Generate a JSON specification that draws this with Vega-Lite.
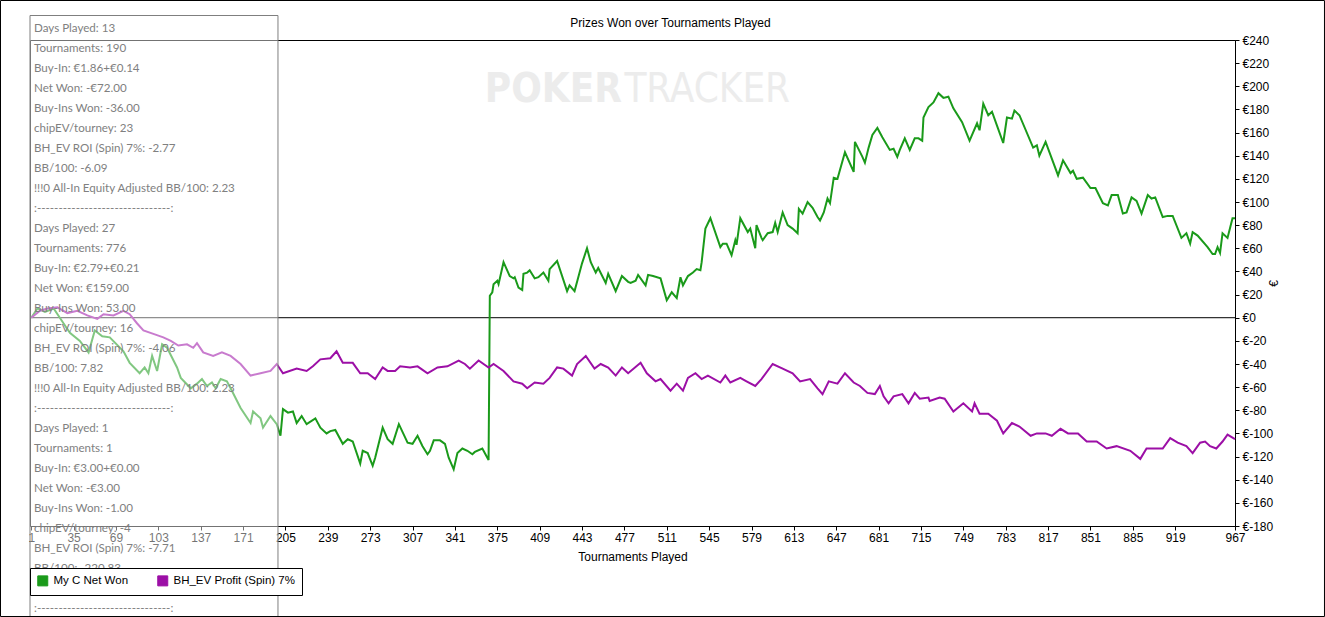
{
  "$schema": "https://vega.github.io/schema/vega-lite/v6.json",
  "width": 1205,
  "height": 486,
  "autosize": {"type": "none"},
  "padding": {"left": 30, "top": 40, "right": 90, "bottom": 91},
  "background": "white",
  "title": {"text": "Prizes Won over Tournaments Played", "anchor": "middle", "frame": "group", "dx": 38, "offset": -30, "fontSize": 12, "fontWeight": "normal", "font": "Liberation Sans", "color": "black"},
  "datasets": {
    "green": [[1,0],[6,8],[12,5],[19,8],[27,-5],[32,-13],[40,-20],[47,-30],[52,-11],[58,-16],[64,-17],[75,-29],[80,-39],[88,-48],[92,-43],[95,-48],[98,-33],[102,-46],[106,-23],[110,-26],[118,-43],[121,-52],[129,-61],[134,-57],[138,-53],[142,-59],[146,-56],[149,-61],[153,-53],[158,-55],[161,-61],[169,-78],[177,-91],[179,-81],[185,-87],[187,-95],[193,-85],[198,-92],[201,-102],[203,-79],[207,-82],[211,-81],[214,-91],[218,-85],[222,-92],[229,-87],[233,-95],[238,-100],[241,-98],[245,-97],[251,-109],[255,-105],[259,-107],[265,-126],[267,-115],[271,-117],[275,-128],[277,-121],[283,-95],[287,-105],[291,-109],[296,-92],[303,-108],[307,-109],[311,-102],[315,-111],[319,-118],[321,-115],[324,-106],[329,-106],[333,-109],[336,-121],[340,-131],[343,-117],[347,-113],[351,-115],[355,-118],[357,-116],[363,-113],[368,-123],[369,19],[371,22],[372,29],[375,32],[376,29],[380,48],[385,36],[388,34],[389,35],[392,26],[395,24],[396,38],[399,39],[401,41],[405,34],[408,35],[412,39],[416,32],[417,42],[423,49],[431,23],[433,28],[437,23],[440,35],[443,47],[447,60],[450,48],[454,39],[456,43],[462,30],[464,38],[470,23],[475,36],[480,31],[482,30],[486,32],[488,37],[494,28],[496,37],[500,36],[506,34],[511,15],[515,22],[519,17],[522,35],[524,28],[528,36],[532,39],[535,42],[538,41],[539,48],[542,77],[546,86],[554,61],[556,64],[559,64],[563,54],[566,67],[567,63],[570,86],[576,74],[578,77],[582,60],[583,80],[587,69],[588,67],[592,73],[596,74],[598,82],[600,74],[604,91],[608,80],[612,77],[616,73],[617,94],[620,90],[624,100],[628,95],[632,87],[634,84],[637,91],[640,103],[642,99],[645,121],[648,120],[654,143],[661,126],[662,152],[668,139],[670,134],[673,147],[676,158],[680,164],[684,156],[690,145],[693,146],[696,139],[698,145],[702,155],[706,145],[710,155],[713,155],[716,153],[717,173],[721,182],[725,186],[729,194],[733,190],[737,191],[741,181],[748,169],[754,153],[760,168],[762,162],[765,185],[769,175],[772,178],[776,166],[781,151],[784,173],[788,172],[790,179],[794,175],[805,147],[808,149],[810,140],[815,152],[825,123],[829,136],[835,125],[837,127],[840,120],[845,121],[851,112],[855,112],[861,99],[865,97],[868,106],[873,106],[877,90],[880,91],[884,104],[888,101],[892,90],[897,106],[900,103],[903,104],[909,87],[913,88],[917,88],[924,69],[928,73],[931,64],[933,74],[937,71],[945,61],[949,55],[951,55],[953,61],[955,56],[957,73],[961,69],[965,86],[967,86]],
    "purple": [[1,0],[8,6],[14,8],[22,9],[30,4],[38,6],[46,2],[54,-1],[59,3],[67,2],[75,6],[80,3],[86,-5],[91,-11],[99,-14],[107,-17],[113,-20],[119,-24],[126,-23],[131,-26],[134,-22],[139,-30],[147,-33],[154,-30],[161,-33],[169,-40],[177,-50],[185,-48],[193,-46],[198,-40],[203,-48],[214,-44],[222,-46],[227,-42],[233,-36],[241,-35],[246,-29],[251,-39],[259,-39],[265,-48],[271,-48],[277,-53],[283,-43],[287,-46],[293,-46],[297,-42],[305,-43],[311,-42],[319,-48],[327,-43],[335,-42],[344,-37],[349,-40],[353,-44],[360,-37],[368,-43],[372,-40],[380,-46],[388,-55],[395,-57],[399,-61],[405,-56],[412,-57],[417,-52],[423,-43],[428,-44],[435,-50],[439,-40],[446,-33],[453,-44],[458,-40],[464,-43],[470,-50],[475,-43],[480,-48],[490,-39],[495,-48],[502,-55],[506,-53],[514,-63],[519,-57],[524,-63],[528,-52],[534,-48],[539,-53],[544,-50],[554,-56],[558,-50],[562,-56],[570,-52],[575,-55],[582,-59],[587,-53],[596,-40],[604,-44],[612,-48],[618,-55],[626,-53],[632,-61],[636,-66],[641,-55],[648,-57],[654,-48],[661,-56],[666,-59],[672,-65],[678,-66],[682,-59],[685,-68],[689,-74],[693,-68],[700,-66],[705,-74],[710,-65],[714,-70],[721,-69],[722,-72],[730,-69],[734,-70],[741,-81],[749,-74],[756,-81],[758,-74],[762,-83],[769,-83],[776,-89],[781,-100],[788,-91],[794,-94],[803,-102],[808,-100],[815,-100],[820,-102],[827,-96],[833,-100],[841,-100],[848,-107],[856,-107],[864,-113],[872,-111],[883,-115],[891,-122],[896,-113],[905,-113],[909,-113],[915,-104],[921,-108],[928,-111],[933,-117],[939,-108],[943,-107],[947,-111],[952,-113],[957,-107],[961,-101],[967,-105]],
    "notes": [
      {"row": 0, "text": "Days Played: 13"},
      {"row": 1, "text": "Tournaments: 190"},
      {"row": 2, "text": "Buy-In: €1.86+€0.14"},
      {"row": 3, "text": "Net Won: -€72.00"},
      {"row": 4, "text": "Buy-Ins Won: -36.00"},
      {"row": 5, "text": "chipEV/tourney: 23"},
      {"row": 6, "text": "BH_EV ROI (Spin) 7%: -2.77"},
      {"row": 7, "text": "BB/100: -6.09"},
      {"row": 8, "text": "!!!0 All-In Equity Adjusted BB/100: 2.23"},
      {"row": 9, "text": ":-------------------------------:"},
      {"row": 10, "text": "Days Played: 27"},
      {"row": 11, "text": "Tournaments: 776"},
      {"row": 12, "text": "Buy-In: €2.79+€0.21"},
      {"row": 13, "text": "Net Won: €159.00"},
      {"row": 14, "text": "Buy-Ins Won: 53.00"},
      {"row": 15, "text": "chipEV/tourney: 16"},
      {"row": 16, "text": "BH_EV ROI (Spin) 7%: -4.06"},
      {"row": 17, "text": "BB/100: 7.82"},
      {"row": 18, "text": "!!!0 All-In Equity Adjusted BB/100: 2.23"},
      {"row": 19, "text": ":-------------------------------:"},
      {"row": 20, "text": "Days Played: 1"},
      {"row": 21, "text": "Tournaments: 1"},
      {"row": 22, "text": "Buy-In: €3.00+€0.00"},
      {"row": 23, "text": "Net Won: -€3.00"},
      {"row": 24, "text": "Buy-Ins Won: -1.00"},
      {"row": 25, "text": "chipEV/tourney: -4"},
      {"row": 26, "text": "BH_EV ROI (Spin) 7%: -7.71"},
      {"row": 27, "text": "BB/100: -220.83"},
      {"row": 28, "text": "!!!0 All-In Equity Adjusted BB/100: -14.10"},
      {"row": 29, "text": ":-------------------------------:"}
    ]
  },
  "layer": [
    {
      "layer": [
        {
          "data": {"values": [{}]},
          "mark": {"type": "text", "font": "DejaVu Sans Condensed, Roboto", "fontSize": 40, "fontWeight": "bold", "color": "#ececec", "align": "left", "baseline": "middle"},
          "encoding": {
            "x": {"datum": 365, "type": "quantitative"},
            "y": {"datum": 197, "type": "quantitative"},
            "text": {"value": "POKER"}
          }
        },
        {
          "data": {"values": [{}]},
          "mark": {"type": "text", "font": "DejaVu Sans Condensed, Roboto", "fontSize": 40, "color": "#ececec", "align": "left", "baseline": "middle"},
          "encoding": {
            "x": {"datum": 477, "type": "quantitative"},
            "y": {"datum": 197, "type": "quantitative"},
            "text": {"value": "TRACKER"}
          }
        },
        {
          "data": {"values": [{}]},
          "mark": {"type": "rule", "color": "black", "strokeWidth": 1},
          "encoding": {"y": {"datum": 0, "type": "quantitative"}}
        },
        {
          "data": {"name": "green"},
          "transform": [
            {"calculate": "datum[0]", "as": "t"},
            {"calculate": "datum[1]", "as": "v"},
            {"calculate": "'My C Net Won'", "as": "series"}
          ],
          "mark": {"type": "line", "strokeWidth": 2},
          "encoding": {
            "x": {"field": "t", "type": "quantitative", "title": "Tournaments Played",
              "scale": {"domain": [0, 967], "nice": false, "zero": false},
              "axis": {"values": [1,35,69,103,137,171,205,239,273,307,341,375,409,443,477,511,545,579,613,647,681,715,749,783,817,851,885,919,967], "tickCount": 40, "labelPadding": 2, "titlePadding": 8, "labelOverlap": false, "labelFlush": false}},
            "y": {"field": "v", "type": "quantitative", "title": "€",
              "scale": {"domain": [-180, 240], "nice": false, "zero": false},
              "axis": {"orient": "right", "values": [-180,-160,-140,-120,-100,-80,-60,-40,-20,0,20,40,60,80,100,120,140,160,180,200,220,240], "tickCount": 30, "labelExpr": "'€' + datum.value", "labelPadding": 3, "labelOverlap": false, "labelFlush": false, "titleAngle": 270, "titlePadding": 8}},
            "color": {"field": "series", "type": "nominal",
              "scale": {"domain": ["My C Net Won", "BH_EV Profit (Spin) 7%"], "range": ["#1a9a1a", "#9c0fa6"]},
              "legend": {"orient": "none", "legendX": 0, "legendY": 528, "direction": "horizontal", "title": null, "symbolType": "square", "symbolSize": 100, "symbolStrokeWidth": 1, "strokeColor": "black", "fillColor": "white", "padding": 7, "columnPadding": 26, "labelOffset": 5, "labelFont": "Liberation Sans", "labelFontSize": 11.5, "labelColor": "black",
                "encode": {"symbols": {"update": {"fill": {"scale": "color", "field": "value"}, "fillOpacity": {"value": 1}}}}}}
          }
        },
        {
          "data": {"name": "purple"},
          "transform": [
            {"calculate": "datum[0]", "as": "t"},
            {"calculate": "datum[1]", "as": "v"},
            {"calculate": "'BH_EV Profit (Spin) 7%'", "as": "series"}
          ],
          "mark": {"type": "line", "strokeWidth": 2},
          "encoding": {
            "x": {"field": "t", "type": "quantitative"},
            "y": {"field": "v", "type": "quantitative"},
            "color": {"field": "series", "type": "nominal"}
          }
        }
      ]
    },
    {
      "layer": [
        {
          "data": {"values": [{}]},
          "mark": {"type": "rect", "fill": "white", "fillOpacity": 0.45, "stroke": "#7f7f7f", "strokeWidth": 1},
          "encoding": {
            "x": {"datum": 0, "type": "quantitative"},
            "x2": {"datum": 199},
            "y": {"datum": -0.675, "type": "quantitative", "scale": {"domain": [0.55, 24.85], "reverse": true, "nice": false, "zero": false}, "axis": null},
            "y2": {"datum": 30}
          }
        },
        {
          "data": {"name": "notes"},
          "mark": {"type": "text", "font": "Lato", "fontSize": 11.6, "color": "#808080", "align": "left", "baseline": "middle"},
          "encoding": {
            "x": {"datum": 3.2, "type": "quantitative"},
            "y": {"field": "row", "type": "quantitative"},
            "text": {"field": "text"}
          }
        },
        {
          "data": {"values": [{}]},
          "mark": {"type": "rect", "fillOpacity": 0, "stroke": "black", "strokeWidth": 1},
          "encoding": {
            "x": {"datum": -23.67, "type": "quantitative"},
            "x2": {"datum": 1038.8},
            "y": {"datum": -1.425, "type": "quantitative"},
            "y2": {"datum": 29.375}
          }
        }
      ]
    }
  ],
  "resolve": {"scale": {"y": "independent"}},
  "config": {
    "font": "Liberation Sans",
    "view": {"stroke": "black", "strokeWidth": 1},
    "axis": {"labelFont": "Liberation Sans", "labelFontSize": 12, "labelColor": "black", "titleFont": "Liberation Sans", "titleFontSize": 12, "titleFontWeight": "normal", "titleColor": "black", "domainColor": "black", "tickColor": "black", "tickSize": 4, "gridColor": "#e8e8e8", "labelFlush": false, "labelOverlap": false}
  }
}
